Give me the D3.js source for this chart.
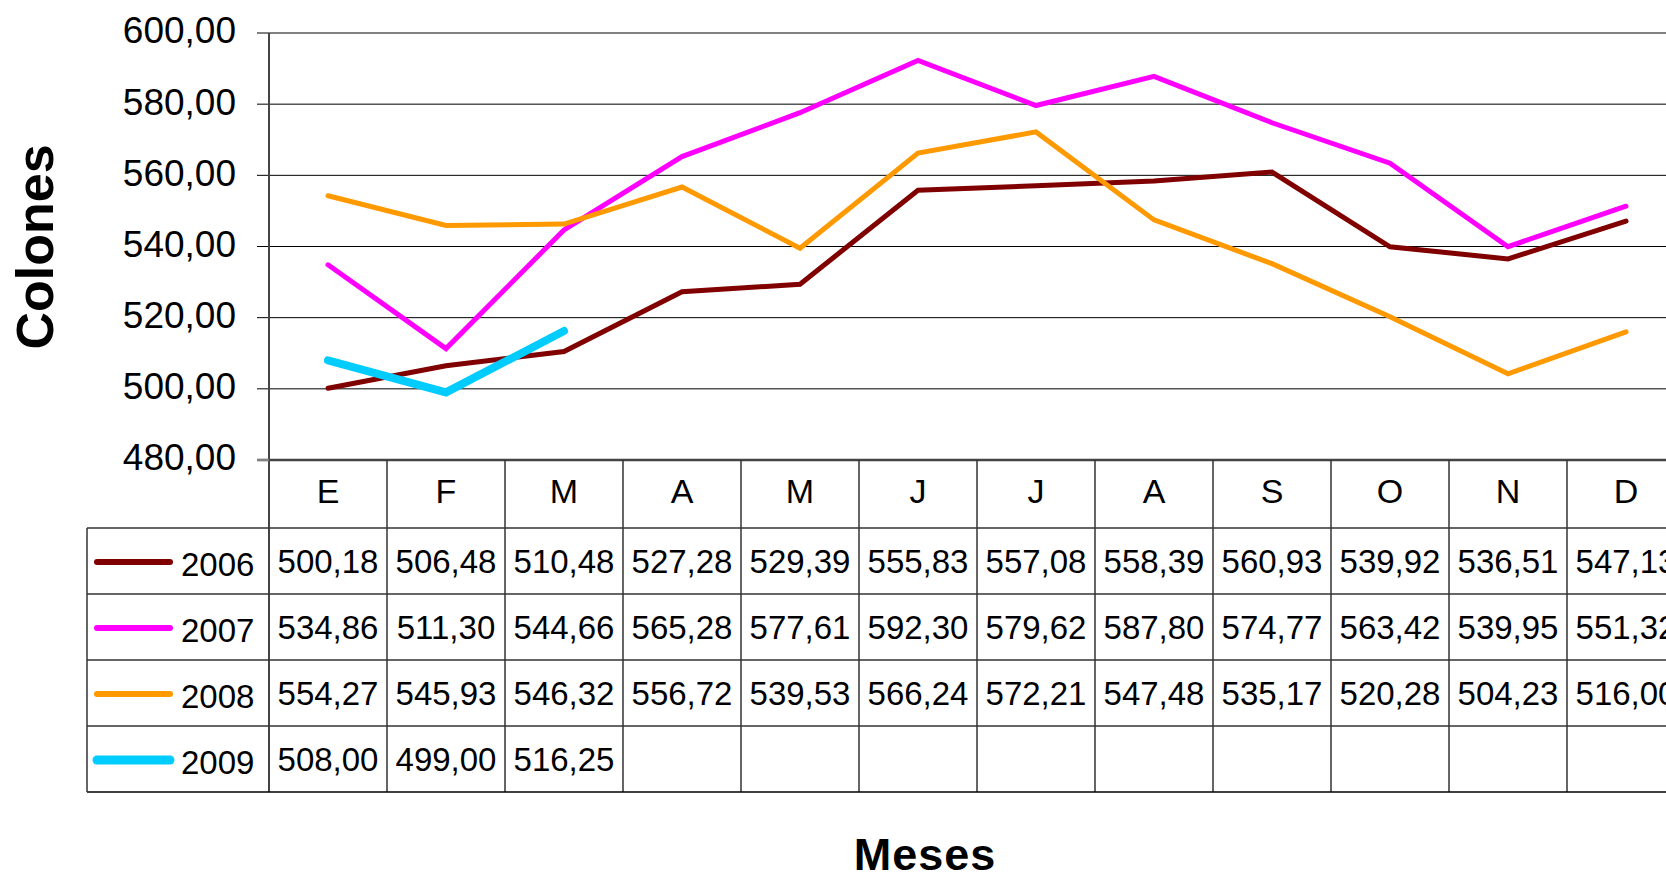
<!DOCTYPE html>
<html>
<head>
<meta charset="utf-8">
<script src="https://cdn.jsdelivr.net/npm/d3@7"></script>
<style>
  body { margin: 0; background: #fff; }
  svg { display: block; font-family: "Liberation Sans", Arial, sans-serif; }
</style>
</head>
<body>
<svg id="chart" width="1666" height="875"></svg>
<script>
// Chart data
const months = ["E", "F", "M", "A", "M", "J", "J", "A", "S", "O", "N", "D"];
const years = ["2006", "2007", "2008", "2009"];
const v2006 = [500.18, 506.48, 510.48, 527.28, 529.39, 555.83, 557.08, 558.39, 560.93, 539.92, 536.51, 547.13];
const v2007 = [534.86, 511.30, 544.66, 565.28, 577.61, 592.30, 579.62, 587.80, 574.77, 563.42, 539.95, 551.32];
const v2008 = [554.27, 545.93, 546.32, 556.72, 539.53, 566.24, 572.21, 547.48, 535.17, 520.28, 504.23, 516.00];
const v2009 = [508.00, 499.00, 516.25];
const yTicks = [480, 500, 520, 540, 560, 580, 600];

const series = [
    { year: years[0], values: v2006, color: "#800000", width: 5 },
    { year: years[1], values: v2007, color: "#ff00ff", width: 5 },
    { year: years[2], values: v2008, color: "#ff9900", width: 5 },
    { year: years[3], values: v2009, color: "#00ccff", width: 8 }
];

const svg = d3.select("#chart");

// Spanish number format (comma decimal)
const locale = d3.formatLocale({ decimal: ",", thousands: ".", grouping: [3], currency: ["", ""] });
const fmt = locale.format(".2f");

// Layout
const plotLeft = 269, colW = 118;
const plotTop = 33, plotBottom = 460;
const headerBottom = 528, tableBottom = 792;
const tableLeft = 87;

const x = d3.scaleBand()
    .domain(d3.range(months.length))
    .range([plotLeft, plotLeft + colW * months.length]);

const y = d3.scaleLinear()
    .domain([480, 600])
    .range([plotBottom, plotTop]);

const row = d3.scaleBand()
    .domain(years)
    .range([headerBottom, tableBottom]);

const right = 1666;

// Grid lines
svg.append("g")
    .selectAll("line")
    .data(yTicks.filter(d => d > 480))
    .enter().append("line")
    .attr("x1", plotLeft - 12)
    .attr("x2", right)
    .attr("y1", d => y(d))
    .attr("y2", d => y(d))
    .attr("stroke", d => d === 600 ? "#808080" : "#000")
    .attr("stroke-width", d => d === 600 ? 2 : 1);

// Y tick labels
svg.append("g")
    .selectAll("text")
    .data(yTicks)
    .enter().append("text")
    .attr("x", 236)
    .attr("y", d => y(d))
    .attr("dy", "0.28em")
    .attr("text-anchor", "end")
    .attr("font-size", "37px")
    .attr("fill", "#000")
    .text(d => fmt(d));

// Axis lines
svg.append("line")
    .attr("x1", plotLeft).attr("x2", plotLeft)
    .attr("y1", plotTop).attr("y2", tableBottom)
    .attr("stroke", "#444").attr("stroke-width", 2);

svg.append("line")
    .attr("x1", plotLeft - 12).attr("x2", right)
    .attr("y1", plotBottom).attr("y2", plotBottom)
    .attr("stroke", "#444").attr("stroke-width", 2.5);

svg.append("line")
    .attr("x1", plotLeft - 12).attr("x2", plotLeft)
    .attr("y1", plotBottom).attr("y2", plotBottom)
    .attr("stroke", "#808080").attr("stroke-width", 2);

// Data table: column separators
svg.append("g")
    .selectAll("line")
    .data(d3.range(1, months.length + 1))
    .enter().append("line")
    .attr("x1", i => plotLeft + colW * i)
    .attr("x2", i => plotLeft + colW * i)
    .attr("y1", plotBottom)
    .attr("y2", tableBottom)
    .attr("stroke", "#333")
    .attr("stroke-width", 1.5);

// Row separators and table border
svg.append("g")
    .selectAll("line")
    .data(years.slice(1))
    .enter().append("line")
    .attr("x1", tableLeft).attr("x2", right)
    .attr("y1", d => row(d)).attr("y2", d => row(d))
    .attr("stroke", "#333").attr("stroke-width", 1.5);

svg.append("line")
    .attr("x1", tableLeft).attr("x2", right)
    .attr("y1", headerBottom).attr("y2", headerBottom)
    .attr("stroke", "#333").attr("stroke-width", 1.5);

svg.append("line")
    .attr("x1", tableLeft).attr("x2", right)
    .attr("y1", tableBottom).attr("y2", tableBottom)
    .attr("stroke", "#000").attr("stroke-width", 1.5);

svg.append("line")
    .attr("x1", tableLeft).attr("x2", tableLeft)
    .attr("y1", headerBottom).attr("y2", tableBottom)
    .attr("stroke", "#333").attr("stroke-width", 1.5);

// Month labels
svg.append("g")
    .selectAll("text")
    .data(months)
    .enter().append("text")
    .attr("x", (d, i) => x(i) + x.bandwidth() / 2)
    .attr("y", 503)
    .attr("text-anchor", "middle")
    .attr("font-size", "34px")
    .attr("fill", "#000")
    .text(d => d);

// Table rows: legend + values
const rows = svg.append("g")
    .selectAll("g")
    .data(series)
    .enter().append("g")
    .attr("transform", d => `translate(0,${row(d.year) + row.bandwidth() - 21})`);

rows.append("line")
    .attr("x1", 97).attr("x2", 170)
    .attr("y1", -11).attr("y2", -11)
    .attr("stroke", d => d.color)
    .attr("stroke-width", d => d.width + 1)
    .attr("stroke-linecap", "round");

rows.append("text")
    .attr("x", 181)
    .attr("y", 3)
    .attr("font-size", "33px")
    .attr("fill", "#000")
    .text(d => d.year);

rows.selectAll("text.val")
    .data(d => d.values)
    .enter().append("text")
    .attr("class", "val")
    .attr("x", (d, i) => x(i) + x.bandwidth() / 2)
    .attr("y", 0)
    .attr("text-anchor", "middle")
    .attr("font-size", "33px")
    .attr("fill", "#000")
    .text(d => fmt(d));

// Series lines
const line = d3.line()
    .x((d, i) => x(i) + x.bandwidth() / 2)
    .y(d => y(d));

svg.append("g")
    .selectAll("path")
    .data(series)
    .enter().append("path")
    .attr("d", d => line(d.values))
    .attr("fill", "none")
    .attr("stroke", d => d.color)
    .attr("stroke-width", d => d.width)
    .attr("stroke-linejoin", "miter")
    .attr("stroke-linecap", "round");

// Axis titles
svg.append("text")
    .attr("transform", "translate(53,247) rotate(-90)")
    .attr("text-anchor", "middle")
    .attr("font-size", "52px")
    .attr("font-weight", "bold")
    .attr("fill", "#000")
    .text("Colones");

svg.append("text")
    .attr("x", 925)
    .attr("y", 870)
    .attr("text-anchor", "middle")
    .attr("font-size", "45px")
    .attr("font-weight", "bold")
    .attr("letter-spacing", "1px")
    .attr("fill", "#000")
    .text("Meses");
</script>
</body>
</html>
